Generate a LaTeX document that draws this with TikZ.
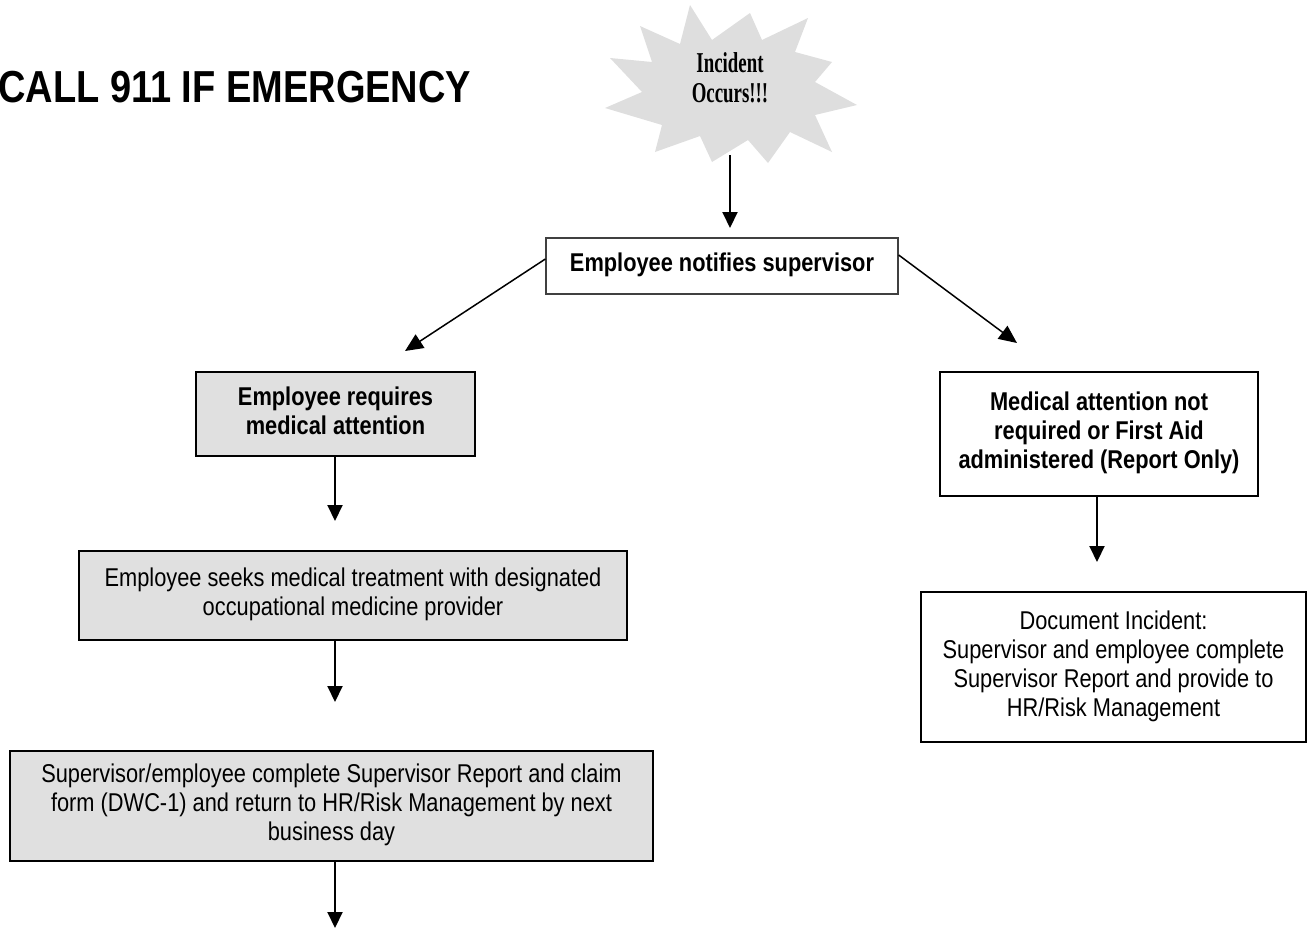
\documentclass[tikz,border=0pt]{standalone}
\usepackage{fontspec}
\setmainfont{Liberation Sans}
\newfontfamily\starfont{Liberation Serif}
\usetikzlibrary{arrows.meta}
\definecolor{boxgray}{HTML}{E0E0E0}
\definecolor{stargray}{HTML}{DEDEDE}
\newcommand{\vtext}[1]{\scalebox{1}[1.18]{\begin{tabular}{@{}c@{}}#1\end{tabular}}}
\tikzset{
  bodyfont/.style={font=\fontsize{21.8}{24.6}\selectfont},
  boldfont/.style={font=\fontsize{21.8}{24.6}\selectfont\bfseries},
  graybox/.style={draw=black, fill=boxgray, line width=2pt, inner sep=0pt, bodyfont},
  whitebox/.style={draw=black, fill=white, line width=2pt, inner sep=0pt, bodyfont},
  vflow/.style={line width=2pt, -{Triangle[length=16pt,width=15pt]}},
  dflow/.style={line width=1.5pt, -{Triangle[length=18pt,width=16pt]}},
}
\begin{document}
\begin{tikzpicture}[x=1pt,y=-1pt]
\useasboundingbox (0,0) rectangle (1315,930);
% title
\node[anchor=base west, inner sep=0pt, font=\fontsize{38}{40}\selectfont\bfseries] (title) at (-2,102) {\scalebox{1}[1.18]{CALL 911 IF EMERGENCY}};
% star
\fill[stargray] (690,5) -- (712,40) -- (750,13) -- (762,40) -- (808,18) -- (795,52) -- (832,62) -- (815,82) -- (857,105) -- (815,115) -- (832,152) -- (790,132) -- (768,163) -- (748,140) -- (712,162) -- (700,136) -- (655,152) -- (662,125) -- (605,108) -- (642,92) -- (610,58) -- (652,62) -- (640,26) -- (680,44) -- cycle;
\node[inner sep=0pt, font=\starfont\bfseries\fontsize{23}{24}\selectfont] (star) at (730,81) {\scalebox{0.82}[1.25]{\begin{tabular}{@{}c@{}}Incident\\Occurs!!!\end{tabular}}};
\coordinate (starbot) at (730,155);
% boxes
\node[whitebox, draw=black!75, line width=1.3pt, minimum width=352pt, minimum height=56pt, boldfont] (notify) at (722,266) {\vtext{Employee notifies supervisor}};
\node[graybox, minimum width=279pt, minimum height=84pt, boldfont] (req) at (335.5,414) {\vtext{Employee requires\\medical attention}};
\node[graybox, minimum width=548pt, minimum height=89pt] (seek) at (353,595.5) {\vtext{Employee seeks medical treatment with designated\\occupational medicine provider}};
\node[graybox, minimum width=643pt, minimum height=110pt] (sup) at (331.5,806) {\vtext{Supervisor/employee complete Supervisor Report and claim\\form (DWC-1) and return to HR/Risk Management by next\\business day}};
\node[whitebox, line width=2.5pt, minimum width=318pt, minimum height=124pt, boldfont] (noreq) at (1099,434) {\vtext{Medical attention not\\required or First Aid\\administered (Report Only)}};
\node[whitebox, minimum width=385pt, minimum height=150pt] (doc) at (1113.5,667) {\vtext{Document Incident:\\Supervisor and employee complete\\Supervisor Report and provide to\\HR/Risk Management}};
% free arrow ends
\coordinate (t1) at (730,228);
\coordinate (tl) at (405,351);
\coordinate (tr) at (1017,343);
\coordinate (t2) at (335,521);
\coordinate (t3) at (335,702);
\coordinate (t4) at (335,928);
\coordinate (t5) at (1097,562);
% connectors
\draw[vflow] (starbot) -- (t1);
\draw[dflow] (notify.west |- 0,259) -- (tl);
\draw[dflow] (notify.east |- 0,255) -- (tr);
\draw[vflow] (req.south -| t2) -- (t2);
\draw[vflow] (seek.south -| t3) -- (t3);
\draw[vflow] (sup.south -| t4) -- (t4);
\draw[vflow] (noreq.south -| t5) -- (t5);
\end{tikzpicture}
\end{document}
